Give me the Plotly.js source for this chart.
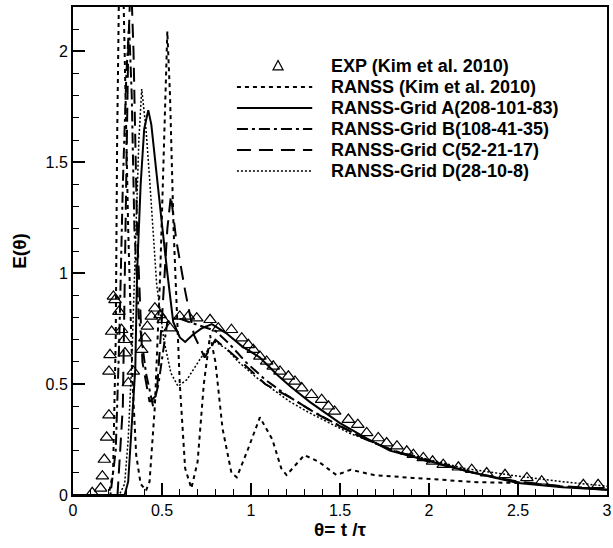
<!DOCTYPE html>
<html>
<head>
<meta charset="utf-8">
<script src="https://cdn.plot.ly/plotly-3.0.1.min.js"></script>
<style>html,body{margin:0;padding:0;background:#fff;}#chart{width:613px;height:548px;}</style>
</head>
<body>
<div id="chart"></div>
<script>
// ---- Data ----
const expX = [0.108,0.155,0.165,0.176,0.189,0.202,0.202,0.208,0.217,0.227,0.236,0.258,0.273,0.288,0.292,0.311,0.339,0.386,0.404,0.418,0.44,0.46,0.489,0.507,0.545,0.60,0.648,0.695,0.77,0.816,0.89,0.948,0.985,1.013,1.05,1.088,1.125,1.163,1.21,1.247,1.285,1.34,1.397,1.435,1.47,1.547,1.60,1.65,1.715,1.762,1.82,1.875,1.912,1.968,2.02,2.08,2.165,2.24,2.324,2.427,2.55,2.633,2.867,2.95];
const expY = [0.01,0.03,0.085,0.16,0.26,0.36,0.557,0.632,0.737,0.895,0.88,0.827,0.745,0.70,0.64,0.505,0.557,0.655,0.707,0.76,0.805,0.842,0.812,0.79,0.752,0.805,0.805,0.797,0.79,0.752,0.745,0.707,0.677,0.655,0.625,0.602,0.58,0.557,0.535,0.512,0.482,0.452,0.43,0.40,0.377,0.34,0.317,0.28,0.257,0.234,0.22,0.197,0.182,0.167,0.152,0.137,0.125,0.114,0.099,0.091,0.077,0.062,0.046,0.046];

const kimX = [0,0.2,0.225,0.24,0.248,0.255,0.265,0.285,0.31,0.335,0.355,0.38,0.41,0.43,0.46,0.49,0.515,0.53,0.545,0.565,0.6,0.63,0.665,0.7,0.735,0.77,0.8,0.84,0.89,0.92,0.98,1.05,1.12,1.17,1.2,1.27,1.3,1.38,1.48,1.56,1.69,1.91,2.06,2.27,2.5];
const kimY = [0,0,0.1,0.7,1.6,2.3,2.7,2.2,1.2,0.5,0.18,0.05,0.02,0.06,0.4,1.0,1.7,2.09,1.8,1.2,0.5,0.12,0.03,0.15,0.5,0.72,0.6,0.3,0.1,0.08,0.2,0.35,0.25,0.12,0.09,0.15,0.18,0.15,0.09,0.114,0.09,0.077,0.068,0.058,0.054];

const gridAX = [0,0.29,0.31,0.33,0.35,0.36,0.38,0.40,0.423,0.44,0.47,0.5,0.53,0.563,0.6,0.63,0.67,0.72,0.78,0.86,0.95,1.05,1.15,1.22,1.33,1.5,1.65,1.78,2.0,2.25,2.5,2.75,3.0];
const gridAY = [0,0,0.06,0.3,0.57,1.0,1.4,1.65,1.735,1.67,1.43,1.22,1.0,0.78,0.71,0.69,0.72,0.75,0.77,0.73,0.67,0.62,0.54,0.49,0.42,0.324,0.255,0.2,0.153,0.1,0.054,0.035,0.024];

const gridBX = [0,0.21,0.24,0.26,0.28,0.30,0.315,0.33,0.345,0.37,0.41,0.45,0.48,0.53,0.58,0.65,0.72,0.8,0.88,0.97,1.08,1.2,1.34,1.48,1.62,1.8,2.0,2.25,2.5,2.75,3.0];
const gridBY = [0,0,0.2,0.7,1.4,1.9,2.12,1.8,1.2,0.8,0.55,0.4,0.5,0.78,0.8,0.78,0.76,0.74,0.68,0.6,0.52,0.45,0.38,0.32,0.26,0.2,0.155,0.1,0.058,0.038,0.024];

const gridCX = [0,0.25,0.28,0.295,0.31,0.325,0.34,0.36,0.39,0.43,0.47,0.5,0.53,0.55,0.58,0.63,0.68,0.74,0.8,0.86,0.96,1.08,1.22,1.36,1.5,1.65,1.8,2.0,2.25,2.5,2.75,3.0];
const gridCY = [0,0,0.4,1.2,2.0,2.35,2.0,1.2,0.6,0.42,0.45,0.8,1.2,1.35,1.15,0.92,0.72,0.62,0.7,0.66,0.59,0.5,0.44,0.37,0.31,0.25,0.2,0.15,0.1,0.06,0.04,0.025];

const gridDX = [0,0.26,0.29,0.31,0.33,0.35,0.37,0.386,0.41,0.43,0.47,0.51,0.55,0.59,0.64,0.72,0.8,0.86,0.93,1.03,1.13,1.22,1.33,1.45,1.55,1.8,2.0,2.2,2.5,2.75,3.0];
const gridDY = [0,0,0.05,0.25,0.6,1.1,1.6,1.83,1.65,1.43,0.95,0.7,0.55,0.49,0.52,0.62,0.69,0.66,0.6,0.53,0.47,0.42,0.37,0.32,0.28,0.2,0.16,0.12,0.085,0.06,0.04];

const xTicks = [0,0.5,1,1.5,2,2.5,3];
const xTickText = ["0","0.5","1","1.5","2","2.5","3"];
const yTicks = [0,0.5,1,1.5,2];
const yTickText = ["0","0.5","1","1.5","2"];

const legendLabels = ["EXP (Kim et al. 2010)","RANSS (Kim et al. 2010)","RANSS-Grid A(208-101-83)","RANSS-Grid B(108-41-35)","RANSS-Grid C(52-21-17)","RANSS-Grid D(28-10-8)"];

// ---- Styles ----
const F = "Liberation Sans, Arial, sans-serif";
const styles = [
  null,
  {dash:"4px,4px", width:2},
  {dash:"solid", width:2},
  {dash:"11px,4px,3px,4px", width:2},
  {dash:"14px,8px", width:2},
  {dash:"2px,2px", width:1.5}
];

const traces = [
  {x:expX, y:expY, mode:"markers", type:"scatter", name:legendLabels[0],
   marker:{symbol:"triangle-up-open", size:11, color:"#000", line:{width:1.2, color:"#000"}}},
  {x:kimX, y:kimY, mode:"lines", name:legendLabels[1], line:{color:"#000", width:styles[1].width, dash:styles[1].dash}},
  {x:gridAX, y:gridAY, mode:"lines", name:legendLabels[2], line:{color:"#000", width:styles[2].width, dash:styles[2].dash}},
  {x:gridBX, y:gridBY, mode:"lines", name:legendLabels[3], line:{color:"#000", width:styles[3].width, dash:styles[3].dash}},
  {x:gridCX, y:gridCY, mode:"lines", name:legendLabels[4], line:{color:"#000", width:styles[4].width, dash:styles[4].dash}},
  {x:gridDX, y:gridDY, mode:"lines", name:legendLabels[5], line:{color:"#000", width:styles[5].width, dash:styles[5].dash}}
];

// custom legend (paper coords)
const legY = [0.879,0.836,0.793,0.750,0.707,0.664];
const shapes = [];
const annotations = [];
for (let i = 0; i < legendLabels.length; i++) {
  annotations.push({xref:"paper", yref:"paper", x:0.479, y:legY[i], xanchor:"left", yanchor:"middle",
    text:"<b>"+legendLabels[i]+"</b>", showarrow:false, font:{family:F, size:18, color:"#000"}});
  if (i === 0) {
    const cx = 0.384, cy = legY[0], w = 0.0095, h = 0.0105;
    shapes.push({type:"path", xref:"paper", yref:"paper",
      path:`M ${cx-w} ${cy-h*0.75} L ${cx+w} ${cy-h*0.75} L ${cx} ${cy+h*1.1} Z`,
      line:{color:"#000", width:1.2}, fillcolor:"rgba(0,0,0,0)"});
  } else {
    shapes.push({type:"line", xref:"paper", yref:"paper", x0:0.307, x1:0.448, y0:legY[i], y1:legY[i],
      line:{color:"#000", width:styles[i].width, dash:styles[i].dash}});
  }
}

const layout = {
  width:613, height:548,
  margin:{l:73, r:6, t:7, b:53},
  paper_bgcolor:"#fff", plot_bgcolor:"#fff",
  showlegend:false,
  font:{family:F, size:16, color:"#000"},
  xaxis:{range:[0,3], tickvals:xTicks, ticktext:xTickText, ticks:"inside", ticklen:12, tickwidth:2, tickcolor:"#000",
    minor:{dtick:0.1, ticks:"inside", ticklen:6, tickwidth:1, tickcolor:"#000"},
    showline:true, linewidth:2, linecolor:"#000", mirror:true, showgrid:false, zeroline:false,
    tickfont:{family:F, size:16}, title:{text:"<b>θ= t /τ</b>", font:{family:F, size:19}, standoff:4}},
  yaxis:{range:[0,2.2], tickvals:yTicks, ticktext:yTickText, ticks:"inside", ticklen:12, tickwidth:2, tickcolor:"#000",
    minor:{dtick:0.1, ticks:"inside", ticklen:6, tickwidth:1, tickcolor:"#000"},
    showline:true, linewidth:2, linecolor:"#000", mirror:true, showgrid:false, zeroline:false,
    tickfont:{family:F, size:16}, title:{text:"<b>E(θ)</b>", font:{family:F, size:19}, standoff:14}},
  shapes:shapes,
  annotations:annotations
};

Plotly.newPlot("chart", traces, layout, {displayModeBar:false, staticPlot:true});
</script>
</body>
</html>
